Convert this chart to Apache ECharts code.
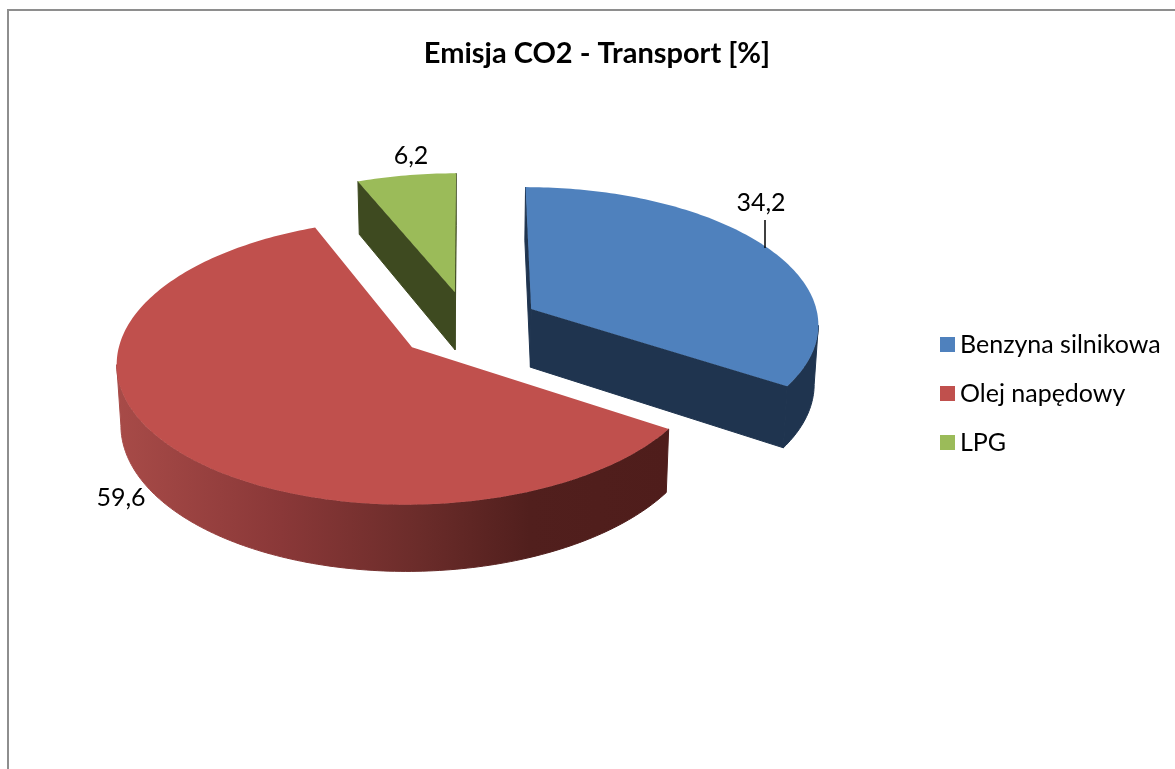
<!DOCTYPE html>
<html>
<head>
<meta charset="utf-8">
<title>Emisja CO2 - Transport</title>
<style>html,body{margin:0;padding:0;background:#fff}#main{width:1175px;height:769px}</style>
<script src="https://cdn.jsdelivr.net/npm/echarts@6/dist/echarts.min.js"></script>
</head>
<body>
<div id="main"></div>
<script>
var categories = ['Benzyna silnikowa', 'Olej napędowy', 'LPG'];
var values = [34.2, 59.6, 6.2];

var topColors = ['#4f81bd', '#c0504d', '#9bbb59'];
var sideColors = ['#1f344f', '#4f1d1b', '#3e4a20'];
var labelPos = [[761, 203], [121, 498], [411, 156]];
var FONT = 'Lato, "Open Sans", sans-serif';

// perspective view of the pie plane
var view = {cx: 468.5, cy: 325, R: 288.5, K: 137, p: 0.1, depth: 59, shrink: 0.988, explode: 0.25};

function project(X, Y) {
	var s = 1 / (1 - view.p * Y);
	var x = view.cx + view.R * X * s;
	var y = view.cy + view.K * Y * s;
	return {
		top: [x, y],
		bottom: [view.cx + (x - view.cx) * view.shrink, y + view.depth * s]
	};
}

function sumBefore(i) {
	var sum = 0;
	for (var j = 0; j < i; j++) sum += values[j];
	return sum;
}

function signedArea(pts) {
	var sum = 0;
	for (var i = 0; i < pts.length; i++) {
		var n = pts[(i + 1) % pts.length];
		sum += pts[i][0] * n[1] - n[0] * pts[i][1];
	}
	return sum / 2;
}

function renderSlice(idx) {
	return function(params, api) {
		var a0 = sumBefore(idx) * 3.6;
		var a1 = a0 + api.value(0) * 3.6;
		var mid = (a0 + a1) / 2 * Math.PI / 180;
		var ex = Math.sin(mid) * view.explode;
		var ey = -Math.cos(mid) * view.explode;
		var apex = project(ex, ey);

		function rim(deg) {
			var t = deg * Math.PI / 180;
			return project(ex + Math.sin(t), ey - Math.cos(t));
		}

		var children = [];
		var side = sideColors[idx];
		var rimFill = side;
		if (idx === 1) {
			rimFill = {
				type: 'linear', global: true, x: 115, y: 0, x2: 668, y2: 0,
				colorStops: [
					{offset: 0, color: '#a84b48'},
					{offset: 0.3, color: '#8a3838'},
					{offset: 0.55, color: '#6b2c2a'},
					{offset: 0.75, color: '#511f1d'},
					{offset: 1, color: '#4f1d1b'}
				]
			};
		}

		// cut faces, only those turned to the viewer
		function cutFace(deg, sign) {
			var b = rim(deg);
			var quad = [apex.top, b.top, b.bottom, apex.bottom];
			if (signedArea(quad) * sign > 50) {
				children.push({type: 'polygon', shape: {points: quad}, style: {fill: side, stroke: side, lineWidth: 1}});
			}
		}
		cutFace(a0, -1);
		cutFace(a1, 1);

		// outer wall runs between the silhouette points of the rim
		var from = a0, to = a1, d;
		for (d = a0; d <= Math.min(a1, 180); d += 0.5) {
			if (rim(d).top[0] > rim(from).top[0]) from = d;
		}
		if (a1 > 180) {
			to = Math.max(a0, 180);
			for (d = to; d <= a1; d += 0.5) {
				if (rim(d).top[0] < rim(to).top[0]) to = d;
			}
		}
		if (to > from) {
			var up = [], down = [];
			for (d = from; d < to; d += 1) {
				var r = rim(d);
				up.push(r.top);
				down.unshift(r.bottom);
			}
			var last = rim(to);
			up.push(last.top);
			down.unshift(last.bottom);
			children.push({type: 'polygon', shape: {points: up.concat(down)}, style: {fill: rimFill, stroke: rimFill, lineWidth: 1}});
		}

		// top face
		var pts = [apex.top];
		for (var a = a0; a < a1; a += 1) pts.push(rim(a).top);
		pts.push(rim(a1).top);
		children.push({type: 'polygon', shape: {points: pts}, style: {fill: topColors[idx]}});

		// value label
		children.push({
			type: 'text',
			style: {
				x: labelPos[idx][0], y: labelPos[idx][1],
				text: String(api.value(0)).replace('.', ','),
				fill: '#000', font: '25px ' + FONT,
				textAlign: 'center', textVerticalAlign: 'middle'
			}
		});
		if (idx === 0) {
			children.push({type: 'line', shape: {x1: 765, y1: 220, x2: 765, y2: 248}, style: {stroke: '#000', lineWidth: 1.5}});
		}
		return {type: 'group', children: children};
	};
}

var series = [];
// far slices first so the big one lies on top
[2, 0, 1].forEach(function(i) {
	series.push({
		type: 'custom',
		name: categories[i],
		coordinateSystem: 'none',
		silent: true,
		itemStyle: {color: topColors[i]},
		renderItem: renderSlice(i),
		data: [[values[i]]]
	});
});

echarts.init(document.getElementById('main')).setOption({
	backgroundColor: '#fff',
	animation: false,
	title: {
		text: 'Emisja CO2 - Transport [%]',
		left: 592,
		top: 34,
		textAlign: 'center',
		textStyle: {fontFamily: FONT, fontSize: 29, fontWeight: 'bold', color: '#000'}
	},
	legend: {
		orient: 'vertical',
		left: 935,
		top: 324,
		icon: 'rect',
		itemWidth: 15,
		itemHeight: 15,
		itemGap: 18,
		selectedMode: false,
		data: categories,
		textStyle: {fontFamily: FONT, fontSize: 25, color: '#000', lineHeight: 31}
	},
	graphic: [{
		type: 'polyline',
		silent: true,
		shape: {points: [[8, 769], [8, 10], [1175, 10]]},
		style: {fill: null, stroke: '#8e8e8e', lineWidth: 2}
	}],
	series: series
});
</script>
</body>
</html>
